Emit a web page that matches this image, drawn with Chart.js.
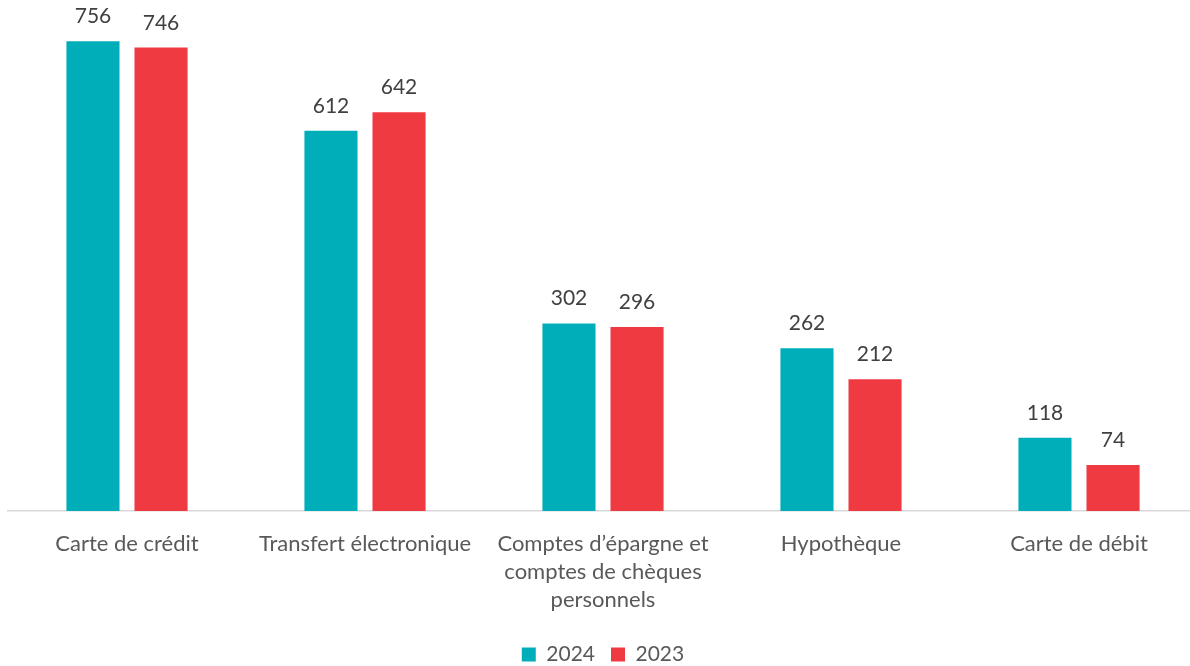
<!DOCTYPE html>
<html>
<head>
<meta charset="utf-8">
<script src="https://cdn.jsdelivr.net/npm/chart.js@4/dist/chart.umd.min.js"></script>
<style>
  html, body { margin: 0; padding: 0; background: #fff; overflow: hidden; }
  #wrap { position: relative; width: 1198px; height: 675px; }
</style>
</head>
<body>
<div id="wrap"><canvas id="myBarChart"></canvas></div>
<script>
const categories = [
  "Carte de crédit",
  "Transfert électronique",
  ["Comptes d’épargne et", "comptes de chèques", "personnels"],
  "Hypothèque",
  "Carte de débit",
];
const values2024 = [756, 612, 302, 262, 118];
const values2023 = [746, 642, 296, 212, 74];
const seriesNames = ["2024", "2023"];

const fontFamily = "Lato, 'Open Sans', sans-serif";

// draws the value above each bar
const valueLabels = {
  id: "valueLabels",
  afterDatasetsDraw(chart) {
    const ctx = chart.ctx;
    ctx.save();
    ctx.font = "21px " + fontFamily;
    ctx.fillStyle = "#404040";
    ctx.textAlign = "center";
    ctx.textBaseline = "alphabetic";
    chart.data.datasets.forEach((ds, i) => {
      chart.getDatasetMeta(i).data.forEach((bar, j) => {
        ctx.fillText(ds.data[j], bar.x, bar.y - 18);
      });
    });
    ctx.restore();
  },
};

const myBarChart = document.getElementById("myBarChart").getContext("2d");
const myChart = new Chart(myBarChart, {
  type: "bar",
  data: {
    labels: categories,
    datasets: [
      {
        label: seriesNames[0],
        data: values2024,
        backgroundColor: "#00AEBA",
      },
      {
        label: seriesNames[1],
        data: values2023,
        backgroundColor: "#EF3A42",
      },
    ],
  },
  options: {
    responsive: true,
    maintainAspectRatio: false,
    animation: false,
    categoryPercentage: 0.572,
    barPercentage: 0.78,
    layout: {
      padding: { top: 14, left: 8, right: 0, bottom: 0 },
    },
    scales: {
      y: {
        display: false,
        min: 0,
        max: 800,
      },
      x: {
        grid: { display: false, drawTicks: false },
        border: { display: true, color: "#D9D9D9", width: 1.5 },
        ticks: {
          color: "#595959",
          padding: 19,
          maxRotation: 0,
          autoSkip: false,
          font: { family: fontFamily, size: 22, lineHeight: 1.27 },
        },
        afterFit(scale) {
          scale.height = 117;
        },
      },
    },
    plugins: {
      legend: {
        position: "bottom",
        labels: {
          color: "#595959",
          boxWidth: 14,
          boxHeight: 14,
          padding: 16,
          font: { family: fontFamily, size: 21 },
        },
      },
      tooltip: { enabled: false },
    },
  },
  plugins: [valueLabels],
});
</script>
</body>
</html>
